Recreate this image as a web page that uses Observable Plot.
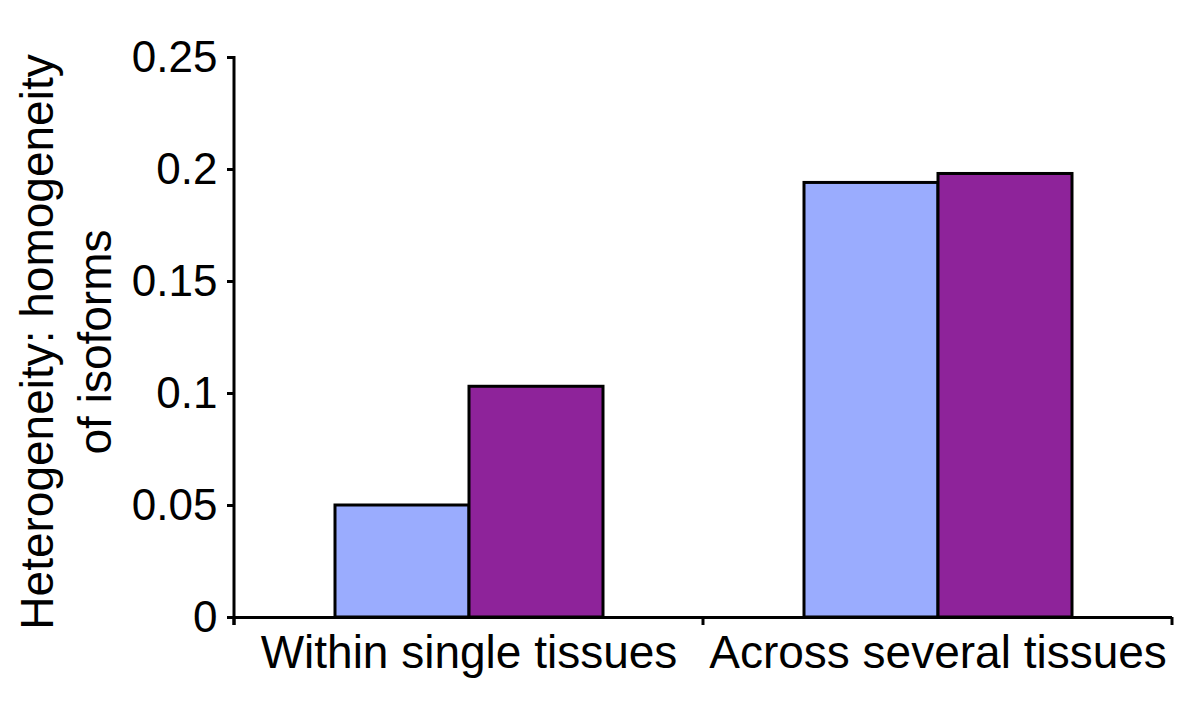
<!DOCTYPE html>
<html>
<head>
<meta charset="utf-8">
<script src="https://cdn.jsdelivr.net/npm/d3@7"></script>
<script src="https://cdn.jsdelivr.net/npm/@observablehq/plot@0.6"></script>
<style>
  html, body { margin: 0; padding: 0; background: white; }
</style>
</head>
<body>
<div id="chart"></div>
<script>
const categories = ["Within single tissues", "Across several tissues"];
const series = ["Series A", "Series B"];
const seriesA = [0.05, 0.194];
const seriesB = [0.103, 0.198];
const yTicks = [0, 0.05, 0.1, 0.15, 0.2, 0.25];
const yTickLabels = ["0", "0.05", "0.1", "0.15", "0.2", "0.25"];
const colors = ["#9aacfe", "#8e239a"];
const yLabelLines = ["Heterogeneity: homogeneity", "of isoforms"];

const data = categories.flatMap((c, i) => [
  {cat: c, s: series[0], v: seriesA[i]},
  {cat: c, s: series[1], v: seriesB[i]}
]);

const font = "'Liberation Sans', Arial, Helvetica, sans-serif";

const chart = Plot.plot({
  width: 1200,
  height: 715,
  marginTop: 57,
  marginBottom: 98,
  marginLeft: 234,
  marginRight: 28,
  style: {fontFamily: font, fontSize: "44px", color: "black", background: "white", overflow: "visible"},
  fx: {domain: categories, padding: 0, label: null, tickSize: 0, tickPadding: 18, axis: "bottom"},
  x: {domain: series, paddingInner: 0, paddingOuter: 0.75, axis: null},
  y: {domain: [0, 0.25], ticks: yTicks, tickFormat: d => yTickLabels[yTicks.indexOf(d)], tickSize: 7, tickPadding: 10, label: null, line: true},
  color: {domain: series, range: colors},
  facet: {data, x: "cat"},
  marks: [
    Plot.barY(data, {x: "s", y: "v", fill: "s", stroke: "black", strokeWidth: 3, inset: 0}),
    Plot.ruleY([0], {stroke: "black", strokeWidth: 3})
  ]
});

document.getElementById("chart").appendChild(chart);

const svg = d3.select(chart.tagName.toLowerCase() === "svg" ? chart : chart.querySelector("svg"));

// heavier axis strokes
svg.selectAll('[aria-label^="y-axis"]').attr("stroke-width", 3);
svg.selectAll('[aria-label^="y-axis"] *').attr("stroke-width", 3);
svg.selectAll('[aria-label^="fx-axis"] text').attr("font-size", 46);

const fx = chart.scale("fx");
const y = chart.scale("y");
const y0 = y.apply(0);
const yTop = y.apply(0.25);
const xLeft = fx.apply(categories[0]);

// y-axis line drawn from the y scale, extending slightly below zero
svg.append("line")
  .attr("x1", xLeft).attr("x2", xLeft)
  .attr("y1", yTop - 1).attr("y2", y0 + 8)
  .attr("stroke", "black").attr("stroke-width", 3);

// boundary ticks on the category axis, from the fx scale
const bounds = categories.map(c => fx.apply(c)).concat([fx.apply(categories[categories.length - 1]) + fx.bandwidth]);
svg.append("g")
  .selectAll("line")
  .data(bounds)
  .join("line")
  .attr("x1", d => d).attr("x2", d => d)
  .attr("y1", y0).attr("y2", y0 + 8)
  .attr("stroke", "black").attr("stroke-width", 3);

// y-axis title (two lines, rotated)
const yMid = (y0 + yTop) / 2 + 5;
const t = svg.append("text")
  .attr("transform", `translate(53,${yMid}) rotate(-90)`)
  .attr("text-anchor", "middle")
  .attr("font-family", font)
  .attr("font-size", 46)
  .attr("fill", "black");
t.selectAll("tspan").data(yLabelLines).join("tspan")
  .attr("x", 0)
  .attr("dy", (d, i) => i === 0 ? 0 : "1.27em")
  .text(d => d);
</script>
</body>
</html>
